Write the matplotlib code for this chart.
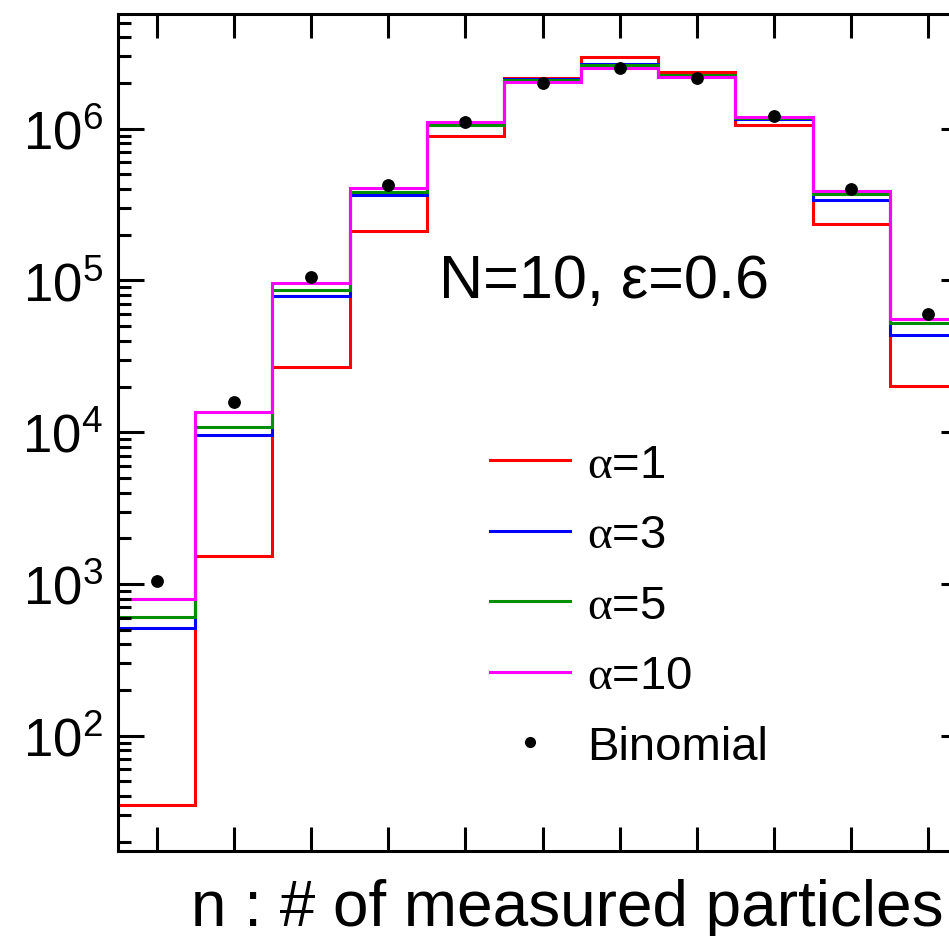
import matplotlib
matplotlib.use("Agg")
import matplotlib.pyplot as plt
import numpy as np
from matplotlib.lines import Line2D
from matplotlib.ticker import LogLocator, FuncFormatter, NullFormatter

plt.rcParams['font.family'] = ['Liberation Sans', 'DejaVu Sans']
plt.rcParams['mathtext.fontset'] = 'custom'
plt.rcParams['mathtext.rm'] = 'Liberation Serif'

# number of measured particles n = 0..10
n = [0, 1, 2, 3, 4, 5, 6, 7, 8, 9, 10]

# histogram contents
alpha1 = [35, 1530, 26800, 211000, 898000, 2150000, 2990000, 2380000, 1060000, 237000, 20200]
alpha3 = [516, 9550, 78800, 366000, 1050000, 2110000, 2670000, 2230000, 1150000, 341000, 43600]
alpha5 = [607, 10900, 85900, 380000, 1055000, 2080000, 2620000, 2250000, 1170000, 374000, 52300]
alpha10 = [802, 13600, 95900, 405000, 1100000, 2030000, 2530000, 2180000, 1186000, 389000, 55600]
binomial = [1050, 15700, 106000, 425000, 1110000, 2000000, 2500000, 2150000, 1210000, 403000, 60500]

labels = [r'$\mathrm{\alpha}$=1', r'$\mathrm{\alpha}$=3', r'$\mathrm{\alpha}$=5', r'$\mathrm{\alpha}$=10']
colors = ['#ff0000', '#0000ff', '#008f00', '#ff00ff']

fig = plt.figure(figsize=(9.49, 9.37), dpi=100)
# axes runs past the right edge of the picture (cropped like the original)
ax = fig.add_axes([118 / 949, 85 / 937, 849 / 949, 837 / 937])

edges = np.arange(len(n) + 1) - 0.5
for vals, c in zip([alpha1, alpha3, alpha5, alpha10], colors):
    ax.stairs(vals, edges, baseline=None, color=c, linewidth=2.2)

ax.plot(n, binomial, 'o', color='black', markersize=8.2, zorder=5)

ax.set_yscale('log')
ax.set_xlim(-0.5, 10.5)
ax.set_ylim(17.4, 5.7e6)

ax.set_xticks(n)
ax.set_xticklabels([])
ax.yaxis.set_major_locator(LogLocator(base=10))
ax.yaxis.set_minor_locator(LogLocator(base=10, subs=np.arange(2, 10)))
ax.yaxis.set_major_formatter(FuncFormatter(lambda v, p: r'$\mathregular{10^{%d}}$' % round(np.log10(v))))
ax.yaxis.set_minor_formatter(NullFormatter())

ax.tick_params(which='both', direction='in', top=True, right=True, width=2.2)
ax.tick_params(axis='y', which='major', length=18.7, labelsize=38, pad=11)
ax.tick_params(axis='y', which='minor', length=9.4)
ax.tick_params(axis='x', which='major', length=17)
ax.minorticks_on()
ax.xaxis.set_minor_locator(plt.NullLocator())
for s in ax.spines.values():
    s.set_linewidth(2.2)

ax.set_xlabel('n : # of measured particles', fontsize=46)
ax.xaxis.set_label_coords((567 - 118) / 849, -0.032)

ax.text((604 - 118) / 849, (852 - 283) / 837, 'N=10, \u03b5=0.6', transform=ax.transAxes,
        fontsize=44, ha='center', va='center')

handles = [Line2D([], [], color=c, linewidth=2.2) for c in colors]
handles.append(Line2D([], [], color='black', marker='o', linestyle='none', markersize=7))
ax.legend(handles, labels + ['Binomial'], loc='upper left',
          bbox_to_anchor=((490 - 118) / 849, (852 - 444) / 837),
          frameon=False, fontsize=34, handlelength=1.7, handletextpad=0.36,
          labelspacing=0.56, borderpad=0, borderaxespad=0)

fig.savefig('out.png', dpi=100)
